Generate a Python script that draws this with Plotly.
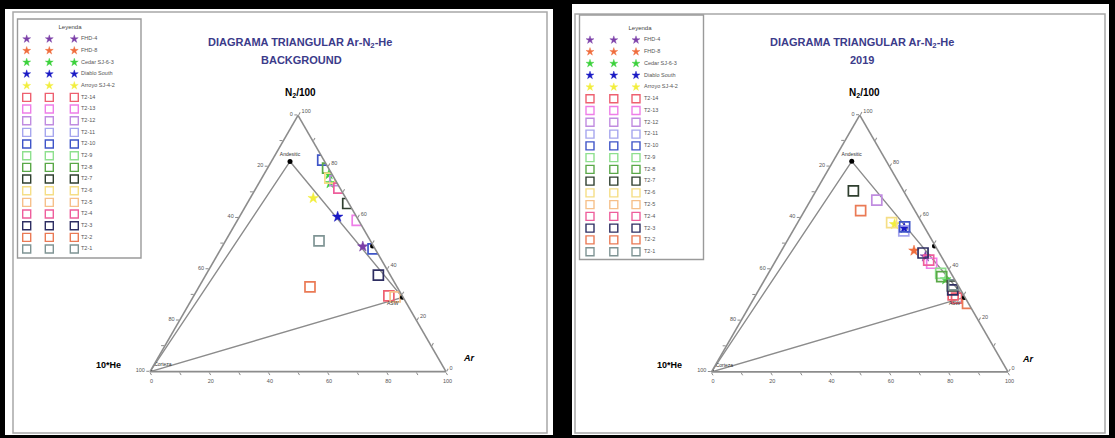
import plotly.graph_objects as go

W, H = 1115, 438
FONT = "Arial, Liberation Sans, sans-serif"

# ---------------- legend entries ----------------
legend_names = ["FHD-4", "FHD-8", "Cedar SJ-6-3", "Diablo South", "Arroyo SJ-4-2",
                "T2-14", "T2-13", "T2-12", "T2-11", "T2-10", "T2-9", "T2-8", "T2-7",
                "T2-6", "T2-5", "T2-4", "T2-3", "T2-2", "T2-1"]
legend_colors = ["#7b3fa8", "#ef6d3d", "#3cd13c", "#1a1ac4", "#f2ee3c",
                 "#ee6070", "#ee7ee8", "#c08ce0", "#a6a6ee", "#3f55c8", "#8ee08e",
                 "#5aa848", "#2f3f2f", "#f5de86", "#f6c08a", "#ee5e9c", "#2e2e62",
                 "#ea7a55", "#7f9494"]
legend_symbols = ["star"] * 5 + ["square-open"] * 14

# ---------------- reference points (N2/100, 10*He, Ar) % ----------------
ref_names = ["Corteza", "Andesitic", "air", "ASW"]
ref_n2 = [0.0, 82.0, 49.0, 29.0]
ref_he = [100.0, 11.7, 0.3, 0.2]
ref_ar = [0.0, 6.3, 50.7, 70.8]

# ---------------- BACKGROUND panel data ----------------
bg_series = ["T2-10", "T2-8", "Cedar SJ-6-3", "Cedar SJ-6-3", "T2-6", "T2-12", "T2-4",
             "Arroyo SJ-4-2", "T2-7", "Diablo South", "T2-13", "T2-1", "FHD-4",
             "T2-10", "T2-3", "T2-2", "T2-14", "T2-5"]
bg_n2 = [82.5, 79.4, 77.0, 73.5, 75.5, 74.5, 71.6, 67.7, 65.6, 60.4, 59.0, 51.0, 48.8,
         47.9, 37.7, 33.1, 29.6, 29.2]
bg_he = [0.4, 0.3, 1.0, 2.4, 1.5, 0.3, 0.4, 11.0, 0.4, 6.4, 0.5, 17.4, 3.7,
         0.7, 4.0, 29.4, 4.5, 2.6]
bg_ar = [17.1, 20.3, 22.0, 24.1, 23.0, 25.2, 28.0, 21.3, 34.0, 33.2, 40.5, 31.6, 47.5,
         51.4, 58.3, 37.5, 65.9, 68.2]

# ---------------- 2019 panel data ----------------
yr_series = ["T2-7", "T2-12", "T2-2", "T2-6", "Arroyo SJ-4-2", "T2-10", "T2-11",
             "Diablo South", "FHD-8", "T2-3", "FHD-4", "T2-4", "T2-13", "T2-9", "T2-8",
             "Cedar SJ-6-3", "T2-1", "T2-7", "T2-3", "T2-14", "T2-14", "T2-2"]
yr_n2 = [70.5, 66.9, 62.8, 58.1, 57.5, 56.5, 54.9, 56.0, 47.2, 46.3, 44.9, 43.5, 42.3,
         38.4, 37.1, 36.0, 33.9, 33.5, 31.9, 30.0, 28.7, 26.7]
yr_he = [16.9, 10.8, 18.3, 10.2, 9.5, 6.6, 7.7, 7.0, 8.1, 5.5, 5.4, 5.0, 4.6,
         3.5, 3.8, 3.0, 1.4, 2.0, 2.7, 3.5, 3.0, 0.3]
yr_ar = [12.6, 22.3, 18.9, 31.7, 33.0, 36.9, 37.4, 37.0, 44.7, 48.2, 49.7, 51.5, 53.1,
         58.1, 59.1, 61.0, 64.7, 64.5, 65.4, 66.5, 68.3, 73.0]

tick_vals = list(range(0, 101, 10))
tick_text = [str(100 - v) if v % 20 == 0 else "" for v in tick_vals]

fig = go.Figure()


def px_x(x):
    return x / W


def px_y(y):
    return 1 - y / H


def add_panel(sub, series, n2, he, ar):
    poly = (0, 1, 3, 0)
    fig.add_trace(go.Scatterternary(
        subplot=sub, a=[ref_n2[i] for i in poly], b=[ref_he[i] for i in poly],
        c=[ref_ar[i] for i in poly], mode="lines",
        line=dict(color="#8c8c8c", width=1.4), showlegend=False, hoverinfo="skip"))
    for name, color, sym in zip(legend_names, legend_colors, legend_symbols):
        idx = [i for i, s in enumerate(series) if s == name]
        if not idx:
            continue
        is_sq = sym.startswith("square")
        fig.add_trace(go.Scatterternary(
            subplot=sub, name=name,
            a=[n2[i] for i in idx], b=[he[i] for i in idx], c=[ar[i] for i in idx],
            mode="markers", showlegend=False,
            marker=dict(symbol=sym, color=color, size=10 if is_sq else 8,
                        line=dict(color=color, width=1.7 if is_sq else 0.5))))
    fig.add_trace(go.Scatterternary(
        subplot=sub, a=ref_n2, b=ref_he, c=ref_ar, mode="markers+text",
        text=ref_names, textposition=["top right", "top center", "middle right", "bottom left"],
        textfont=dict(size=5, color="#333", family=FONT),
        marker=dict(color="black", size=5), showlegend=False, hoverinfo="skip"))


def tern(xl, xr, ytop, ybot):
    ax = dict(tickmode="array", tickvals=tick_vals, ticktext=tick_text,
              ticks="outside", ticklen=3, tickwidth=1, tickcolor="#8c8c8c",
              showgrid=False, showline=True, linecolor="#8c8c8c", linewidth=1.6,
              tickfont=dict(size=5.5, color="#555", family=FONT), title=dict(text=""))
    return dict(domain=dict(x=[px_x(xl), px_x(xr)], y=[px_y(ybot), px_y(ytop)]),
                sum=100, bgcolor="rgba(0,0,0,0)", aaxis=ax, baxis=ax, caxis=ax)


def add_legend(n, box, cols, text_x, row0, step, title_xy):
    x0, y0, x1, y1 = box
    xa, ya = f"x{n}", f"y{n}"
    fig.update_layout({
        f"xaxis{n}": dict(domain=[px_x(x0), px_x(x1)], range=[0, x1 - x0], visible=False,
                          anchor=ya, fixedrange=True),
        f"yaxis{n}": dict(domain=[px_y(y1), px_y(y0)], range=[y1 - y0, 0], visible=False,
                          anchor=xa, fixedrange=True),
    })
    rows = [row0 - y0 + i * step for i in range(len(legend_names))]
    for name, color, sym, yy in zip(legend_names, legend_colors, legend_symbols, rows):
        is_sq = sym.startswith("square")
        fig.add_trace(go.Scatter(
            x=[c - x0 for c in cols], y=[yy] * len(cols), xaxis=xa, yaxis=ya,
            mode="markers", showlegend=False, hoverinfo="skip",
            marker=dict(symbol=sym, color=color, size=8 if is_sq else 6,
                        line=dict(color=color, width=1.4 if is_sq else 0.4))))
    fig.add_trace(go.Scatter(
        x=[text_x - x0] * len(legend_names), y=rows, xaxis=xa, yaxis=ya,
        mode="text", text=legend_names, textposition="middle right",
        textfont=dict(size=5.5, color="#555", family=FONT),
        showlegend=False, hoverinfo="skip"))
    fig.add_trace(go.Scatter(
        x=[title_xy[0] - x0], y=[title_xy[1] - y0], xaxis=xa, yaxis=ya,
        mode="text", text=["Leyenda"], textposition="middle center",
        textfont=dict(size=6, color="#444", family=FONT),
        showlegend=False, hoverinfo="skip"))
    fig.add_shape(type="rect", xref=f"{xa} domain", yref=f"{ya} domain",
                  x0=0, x1=1, y0=0, y1=1, line=dict(color="#9a9a9a", width=1.4))


add_panel("ternary", bg_series, bg_n2, bg_he, bg_ar)
add_panel("ternary2", yr_series, yr_n2, yr_he, yr_ar)

add_legend(3, (17.5, 19, 141, 258), (26.7, 49.3, 74.3), 81, 39, 11.67, (70, 27))
add_legend(4, (579.5, 15, 703.5, 259.5), (590, 613.8, 636), 644, 40, 11.76, (640, 28))

shapes = [
    dict(type="rect", xref="paper", yref="paper", layer="below",
         x0=px_x(5), x1=px_x(553), y0=px_y(435), y1=px_y(9),
         fillcolor="white", line=dict(width=0)),
    dict(type="rect", xref="paper", yref="paper", layer="below",
         x0=px_x(13), x1=px_x(547), y0=px_y(433), y1=px_y(12),
         fillcolor="white", line=dict(color="#a8a8a8", width=1.5)),
    dict(type="rect", xref="paper", yref="paper", layer="below",
         x0=px_x(572), x1=px_x(1109), y0=px_y(435), y1=px_y(4),
         fillcolor="white", line=dict(width=0)),
    dict(type="rect", xref="paper", yref="paper", layer="below",
         x0=px_x(575), x1=px_x(1105), y0=px_y(433), y1=px_y(14),
         fillcolor="white", line=dict(color="#a8a8a8", width=1.5)),
]
for s in shapes:
    fig.add_shape(**s)

TITLE_COLOR = "#3b3b8a"


def ann(x, y, text, size, color="black", bold=True):
    return dict(x=px_x(x), y=px_y(y), xref="paper", yref="paper", showarrow=False,
                xanchor="center", yanchor="middle",
                text=f"<b>{text}</b>" if bold else text,
                font=dict(size=size, color=color, family=FONT))


annotations = [
    ann(300, 43, "DIAGRAMA TRIANGULAR Ar-N<sub>2</sub>-He", 11, TITLE_COLOR),
    ann(301, 60, "BACKGROUND", 11, TITLE_COLOR),
    ann(862, 43, "DIAGRAMA TRIANGULAR Ar-N<sub>2</sub>-He", 11, TITLE_COLOR),
    ann(862, 60, "2019", 11, TITLE_COLOR),
    ann(300, 93, "N<sub>2</sub>/100", 10),
    ann(864, 93, "N<sub>2</sub>/100", 10),
    ann(108, 365, "10*He", 9),
    ann(669, 365, "10*He", 9),
    ann(469, 358, "<i>Ar</i>", 9),
    ann(1028, 359, "<i>Ar</i>", 9),
]

fig.update_layout(
    width=W, height=H, margin=dict(l=0, r=0, t=0, b=0),
    paper_bgcolor="black", plot_bgcolor="white",
    font=dict(family=FONT),
    showlegend=False,
    ternary=tern(150, 446, 115, 372),
    ternary2=tern(711.5, 1008, 115, 372),
    annotations=annotations,
)

fig.write_html(
    "out.html",
    config={"displayModeBar": False},
    post_script="document.body.style.margin='0';document.body.style.overflow='hidden';",
)
